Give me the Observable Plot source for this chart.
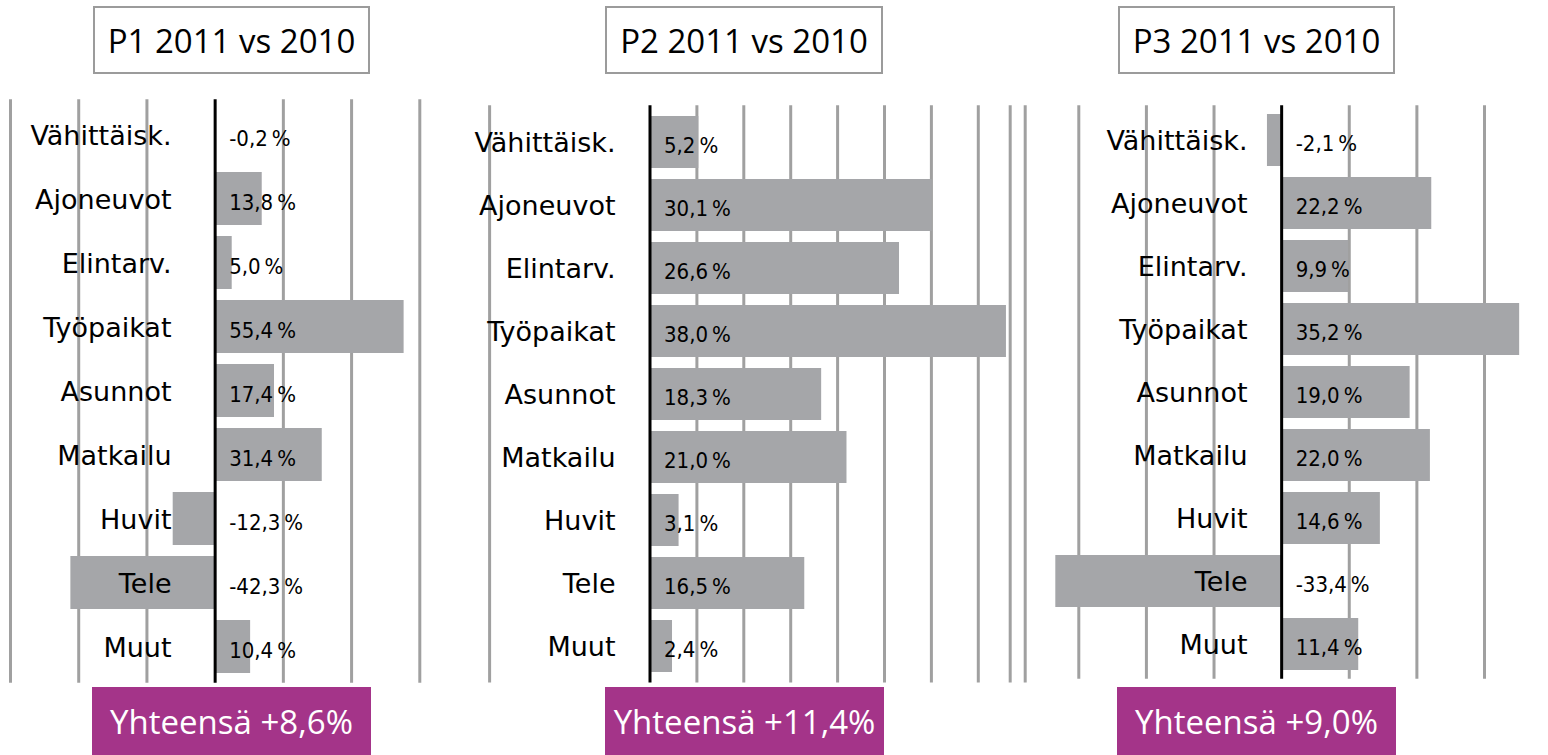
<!DOCTYPE html>
<html><head><meta charset="utf-8">
<script src="https://cdn.jsdelivr.net/npm/d3@7"></script>
<script src="https://cdn.jsdelivr.net/npm/@observablehq/plot@0.6"></script>
<style>
body{margin:0;background:#fff}
#root{position:relative;width:1548px;height:755px;overflow:hidden;background:#fff}
.title{position:absolute;top:6px;height:68px;box-sizing:border-box;border:2px solid #9b9b9b;display:flex;align-items:center;justify-content:center;font-family:"Open Sans";font-size:33px;color:#000;background:#fff}
.total{position:absolute;top:687px;height:68px;background:#a43489;color:#fff;display:flex;align-items:center;justify-content:center;font-family:"Open Sans";font-size:33px}
.panel{position:absolute;top:90px;line-height:0}
</style></head>
<body><div id="root"></div>
<script>
const categories = ["Vähittäisk.", "Ajoneuvot", "Elintarv.", "Työpaikat", "Asunnot", "Matkailu", "Huvit", "Tele", "Muut"];
const p1Values = [-0.2, 13.8, 5.0, 55.4, 17.4, 31.4, -12.3, -42.3, 10.4];
const p2Values = [5.2, 30.1, 26.6, 38.0, 18.3, 21.0, 3.1, 16.5, 2.4];
const p3Values = [-2.1, 22.2, 9.9, 35.2, 19.0, 22.0, 14.6, -33.4, 11.4];
const titles = ["P1 2011 vs 2010", "P2 2011 vs 2010", "P3 2011 vs 2010"];
const totals = ["Yhteensä +8,6%", "Yhteensä +11,4%", "Yhteensä +9,0%"];
const grid1 = [-60, -40, -20, 20, 40, 60];
const grid2 = [-17.1, 5, 10, 15, 20, 25, 30, 35, 38.4, 40];
const grid3 = [-30, -20, -10, 10, 20, 30];

const series = [p1Values, p2Values, p3Values];
const grids = [grid1, grid2, grid3];

const layout = [
  {left:0, width:470, domain:[-60,60], mL:10, mR:50.7, mT:10.75, mB:8.75, labelDx:161, titleL:93, titleW:277, totalL:92, totalW:279},
  {left:470, width:570, domain:[0,40], mL:179.5, mR:15.3, mT:16.8, mB:9.1, labelDx:-34.5, titleL:605, titleW:278, totalL:605, totalW:279},
  {left:1040, width:508, domain:[-30,30], mL:38.3, mR:64, mT:16.8, mB:12.8, labelDx:168.7, titleL:1118, titleW:277, totalL:1117, totalW:279}
];

const fmt = v => v.toFixed(1).replace(".", ",") + "\u2009%";
const root = document.getElementById("root");

layout.forEach((L, i) => {
  const data = categories.map((c, j) => ({category: c, value: series[i][j]}));
  const chart = Plot.plot({
    width: L.width,
    height: 600,
    marginLeft: L.mL, marginRight: L.mR, marginTop: L.mT, marginBottom: L.mB,
    x: {domain: L.domain, axis: null},
    y: {domain: categories, paddingInner: 0.17, paddingOuter: 0.085, axis: null},
    style: {overflow: "visible", background: "transparent"},
    marks: [
      Plot.ruleX(grids[i], {stroke: "#a0a0a0", strokeWidth: 3, insetTop: -1.5, insetBottom: -1.5}),
      Plot.barX(data, {x: "value", y: "category", fill: "#a5a6a9"}),
      Plot.ruleX([0], {stroke: "#000", strokeWidth: 3, insetTop: -1.5, insetBottom: -1.5}),
      Plot.text(categories, {y: d => d, frameAnchor: "left", dx: L.labelDx, dy: 1, textAnchor: "end",
        fontFamily: "DejaVu Sans", fontSize: 27, fill: "#000"}),
      Plot.text(data, {x: () => 0, y: "category", text: d => fmt(d.value), dx: 14, dy: 3.5, textAnchor: "start",
        fontFamily: "DejaVu Sans Condensed", fontSize: 22, fill: "#000"})
    ]
  });
  const wrap = document.createElement("div");
  wrap.className = "panel";
  wrap.style.left = L.left + "px";
  wrap.appendChild(chart);
  root.appendChild(wrap);

  const t = document.createElement("div");
  t.className = "title";
  t.style.left = L.titleL + "px";
  t.style.width = L.titleW + "px";
  t.textContent = titles[i];
  root.appendChild(t);

  const s = document.createElement("div");
  s.className = "total";
  s.style.left = L.totalL + "px";
  s.style.width = L.totalW + "px";
  s.textContent = totals[i];
  root.appendChild(s);
});
</script>
</body></html>
